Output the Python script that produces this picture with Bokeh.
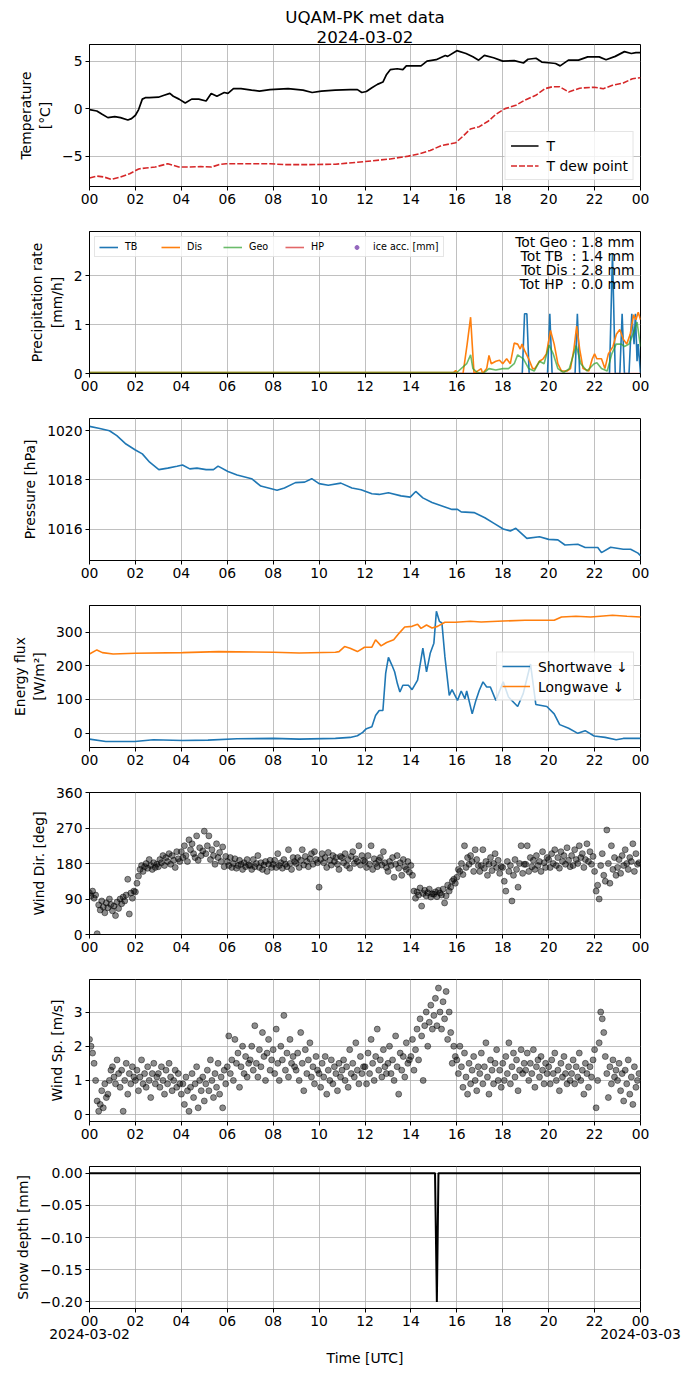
import numpy as np
from bokeh.plotting import figure
from bokeh.layouts import column
from bokeh.models import Range1d, FixedTicker, Label, CustomJSTickFormatter, LinearAxis, Title
from bokeh.embed import file_html
from bokeh.resources import INLINE

FONT = "DejaVu Sans"
FS = "13.9px"
GRID = "#b0b0b0"

TITLE = "UQAM-PK met data"
DATE_START = "2024-03-02"
DATE_END = "2024-03-03"
HOUR_TICKS = list(range(0, 25, 2))
HOUR_LABELS = ["00", "02", "04", "06", "08", "10", "12", "14", "16", "18", "20", "22", "00"]

# ---------------- Temperature ----------------
t_hours = [0, 0.32, 0.55, 0.8, 1.1, 1.35, 1.67, 1.83, 2.0, 2.14,
           2.3, 2.43, 2.6, 3.0, 3.25, 3.5, 3.65, 3.9, 4.17, 4.45,
           4.76, 5.08, 5.3, 5.55, 5.87, 6.03, 6.27, 6.6, 7.06, 7.4,
           7.86, 8.65, 9.3, 9.7, 10.1, 10.7, 11.35, 11.67, 11.86, 12.06,
           12.3, 12.54, 12.78, 12.94, 13.1, 13.4, 13.65, 13.8, 14.13, 14.44,
           14.7, 15.1, 15.5, 15.6, 16.0, 16.4, 16.7, 16.95, 17.2, 17.6,
           18.0, 18.5, 18.9, 19.1, 19.45, 19.7, 20.1, 20.3, 20.5, 20.86,
           21.3, 21.7, 22.2, 22.5, 22.9, 23.3, 23.6, 23.8, 24.0]
t_vals = [-0.1, -0.25, -0.6, -0.95, -0.85, -0.95, -1.2, -1.05, -0.7, -0.1,
          1.0, 1.15, 1.15, 1.2, 1.4, 1.6, 1.3, 1.0, 0.6, 1.0,
          1.0, 0.8, 1.6, 1.3, 1.7, 1.6, 2.1, 2.1, 1.95, 1.85,
          2.0, 2.1, 1.95, 1.7, 1.85, 1.95, 2.0, 2.0, 1.7, 1.8,
          2.2, 2.55, 2.8, 3.6, 4.1, 4.2, 4.1, 4.5, 4.5, 4.5,
          5.0, 5.15, 5.6, 5.5, 6.1, 5.8, 5.45, 5.1, 5.6, 5.35,
          5.0, 5.05, 4.8, 5.2, 5.3, 4.9, 4.8, 4.75, 4.5, 5.1,
          5.1, 5.45, 5.45, 5.15, 5.5, 6.0, 5.8, 5.9, 5.9]
td_hours = [0, 0.32, 0.63, 0.95, 1.35, 1.75, 2.14, 2.46, 2.86, 3.41,
            3.89, 4.37, 4.84, 5.32, 5.63, 5.95, 6.75, 7.86, 8.49, 9.44,
            10.71, 11.67, 12.3, 13.1, 13.89, 14.37, 14.84, 15.32, 15.95, 16.27,
            16.59, 16.98, 17.38, 17.7, 18.1, 18.57, 18.97, 19.44, 19.84, 20.16,
            20.48, 20.87, 21.35, 21.98, 22.38, 22.78, 23.25, 23.65, 24.0]
td_vals = [-7.3, -7.1, -7.2, -7.45, -7.2, -6.85, -6.35, -6.25, -6.15, -5.8,
           -6.15, -6.15, -6.1, -6.15, -5.9, -5.8, -5.8, -5.8, -5.9, -5.9,
           -5.85, -5.65, -5.5, -5.3, -5.0, -4.75, -4.4, -3.9, -3.6, -2.9,
           -2.15, -1.9, -1.3, -0.6, 0.0, 0.35, 0.9, 1.4, 2.1, 2.3,
           2.3, 1.75, 2.15, 2.25, 2.1, 2.45, 2.7, 3.15, 3.25]

# ---------------- Precipitation ----------------
tb_hours = [0, 18.85, 18.95, 19.05, 19.15, 19.95, 20.05, 20.15, 21.15, 21.25,
            21.35, 22.65, 22.78, 22.9, 23.1, 23.2, 23.3, 23.5, 23.62, 23.72,
            23.78, 23.85, 23.9, 24.0]
tb_vals = [0, 0, 1.22, 1.22, 0, 0, 1.22, 0, 0, 1.22,
           0, 0, 2.45, 0, 0, 1.22, 0, 0, 1.22, 0.6,
           1.22, 0.25, 0.6, 0]
dis_hours = [0, 15.85, 15.95, 16.05, 16.27, 16.45, 16.6, 16.67, 16.75, 16.9,
             17.06, 17.12, 17.3, 17.4, 17.5, 17.7, 17.86, 18.0, 18.17, 18.33,
             18.5, 18.65, 18.76, 18.84, 18.97, 19.13, 19.3, 19.4, 19.6, 19.76,
             19.9, 20.08, 20.24, 20.4, 20.56, 20.8, 20.95, 21.1, 21.22, 21.35,
             21.5, 21.75, 21.9, 22.0, 22.1, 22.3, 22.45, 22.6, 22.8, 22.95,
             23.1, 23.25, 23.4, 23.55, 23.7, 23.8, 23.9, 24.0]
dis_vals = [0.02, 0.02, 0.06, 0.0, 0.0, 0.6, 1.15, 0.6, 0.0, 0.05,
            0.1, 0.0, 0.1, 0.37, 0.2, 0.25, 0.27, 0.2, 0.3, 0.2,
            0.62, 0.6, 0.5, 0.6, 0.45, 0.3, 0.1, 0.1, 0.25, 0.3,
            0.4, 0.88, 0.6, 0.2, 0.05, 0.05, 0.1, 0.5, 0.97, 0.5,
            0.1, 0.05, 0.3, 0.4, 0.3, 0.3, 0.1, 0.4, 0.55, 0.8,
            0.9, 0.7, 0.6, 0.8, 1.2, 1.1, 1.25, 1.1]
geo_hours = [0, 16.0, 16.43, 16.6, 16.7, 16.9, 17.14, 17.4, 17.7, 18.0,
             18.25, 18.5, 18.65, 18.9, 19.13, 19.37, 19.6, 19.8, 20.02, 20.2,
             20.4, 20.65, 20.9, 21.2, 21.4, 21.67, 21.98, 22.1, 22.3, 22.55,
             22.75, 22.94, 23.17, 23.3, 23.5, 23.75, 23.85, 24.0]
geo_vals = [0.02, 0.02, 0.2, 0.38, 0.1, 0.02, 0.0, 0.1, 0.07, 0.1,
            0.1, 0.2, 0.38, 0.3, 0.1, 0.05, 0.25, 0.2, 0.58, 0.4,
            0.1, 0.02, 0.1, 0.57, 0.2, 0.05, 0.2, 0.22, 0.1, 0.05,
            0.4, 0.6, 0.6, 0.55, 0.6, 0.9, 1.05, 0.55]
hp_hours = [0, 24.0]
hp_vals = [0.0, 0.0]
ice_hours = [0.0]
ice_vals = [float("nan")]          # no ice accretion recorded
totals_names = ["Geo", "TB\u00a0", "Dis", "HP\u00a0"]
totals_mm = [1.8, 1.4, 2.8, 0.0]

# ---------------- Pressure ----------------
pres_hours = [0, 0.4, 0.87, 1.19, 1.59, 1.98, 2.3, 2.62, 3.02, 3.41,
              3.81, 4.05, 4.37, 4.68, 5.08, 5.4, 5.6, 6.03, 6.43, 7.06,
              7.46, 8.17, 8.49, 8.97, 9.37, 9.68, 10.0, 10.4, 10.95, 11.43,
              11.83, 12.3, 12.62, 13.02, 13.57, 13.97, 14.21, 14.52, 14.92, 15.48,
              15.79, 16.03, 16.19, 16.75, 17.22, 17.62, 18.02, 18.33, 18.57, 19.05,
              19.6, 20.0, 20.4, 20.71, 21.27, 21.59, 22.14, 22.3, 22.7, 23.25,
              23.57, 23.89, 24.0]
pres_vals = [1020.18, 1020.1, 1020.0, 1019.8, 1019.46, 1019.23, 1019.06, 1018.72, 1018.42, 1018.48,
             1018.56, 1018.61, 1018.45, 1018.48, 1018.42, 1018.42, 1018.56, 1018.34, 1018.2, 1018.05,
             1017.75, 1017.58, 1017.67, 1017.89, 1017.91, 1018.05, 1017.85, 1017.78, 1017.87, 1017.67,
             1017.6, 1017.44, 1017.41, 1017.48, 1017.35, 1017.3, 1017.53, 1017.27, 1017.08, 1016.9,
             1016.8, 1016.8, 1016.7, 1016.67, 1016.46, 1016.23, 1016.0, 1015.92, 1016.03, 1015.62,
             1015.69, 1015.58, 1015.56, 1015.35, 1015.38, 1015.25, 1015.25, 1015.04, 1015.26, 1015.18,
             1015.18, 1015.02, 1014.92]

# ---------------- Radiation ----------------
sw_hours = [0, 0.71, 1.98, 2.78, 4.05, 5.16, 6.43, 8.02, 9.13, 10.71,
            11.35, 11.67, 11.9, 12.06, 12.3, 12.46, 12.62, 12.78, 12.9, 13.02,
            13.17, 13.29, 13.41, 13.52, 13.65, 13.89, 14.05, 14.29, 14.52, 14.68,
            14.84, 15.0, 15.11, 15.24, 15.35, 15.48, 15.67, 15.79, 16.03, 16.19,
            16.35, 16.43, 16.67, 16.83, 16.98, 17.14, 17.3, 17.46, 17.7, 18.02,
            18.25, 18.65, 18.89, 19.21, 19.44, 19.92, 20.24, 20.48, 20.87, 21.27,
            21.59, 21.98, 22.46, 22.94, 23.25, 24.0]
sw_vals = [-18, -25, -25, -20, -22, -21, -17, -16, -18, -16,
           -13, -8, 2, 13, 19, 52, 67, 67, 177, 225,
           202, 182, 147, 122, 142, 142, 129, 157, 252, 182,
           237, 267, 362, 332, 327, 227, 112, 129, 97, 125,
           102, 125, 57, 97, 127, 152, 137, 137, 97, 152,
           107, 79, 117, 205, 85, 79, 57, 25, 14, -1,
           7, -9, -13, -20, -16, -16]
lw_hours = [0, 0.32, 0.56, 1.03, 1.98, 4.05, 5.63, 8.02, 9.13, 10.71,
            10.87, 11.11, 11.35, 11.67, 11.98, 12.3, 12.46, 12.7, 12.94, 13.25,
            13.49, 13.73, 14.05, 14.29, 14.44, 14.68, 14.92, 15.16, 15.48, 15.95,
            16.59, 17.06, 18.02, 18.97, 20.24, 20.56, 21.19, 21.83, 22.78, 23.41,
            24.0]
lw_vals = [235, 247, 239, 235, 237, 239, 242, 240, 238, 240,
           242, 257, 252, 242, 255, 255, 277, 259, 269, 277,
           297, 315, 317, 323, 311, 321, 312, 317, 329, 329,
           332, 330, 333, 335, 335, 345, 347, 345, 350, 347,
           345]

# ---------------- Wind (one value every 4 min, 15 per hour) ----------------
wind_step_h = 4 / 60
wind_dir = [
    105, 98, 110, 92, 100, 2, 75, 62, 85, 70, 55, 80, 68, 90, 76,
    60, 72, 48, 82, 66, 90, 78, 95, 85, 100, 140, 52, 105, 92, 110,
    108, 130, 148, 165, 175, 160, 172, 180, 168, 190, 175, 165, 182, 170, 178,
    172, 190, 182, 200, 175, 195, 185, 205, 178, 200, 188, 170, 210, 192, 185,
    210, 195, 225, 200, 185, 240, 215, 230, 205, 195, 250, 188, 220, 200, 212,
    262, 205, 225, 250, 190, 215, 200, 178, 230, 195, 208, 185, 222, 172, 198,
    185, 175, 195, 170, 180, 192, 168, 175, 188, 178, 165, 182, 172, 190, 176,
    175, 165, 190, 172, 180, 200, 170, 182, 165, 176, 185, 160, 178, 188, 170,
    178, 188, 170, 205, 175, 182, 168, 190, 178, 172, 215, 180, 165, 195, 185,
    180, 195, 170, 188, 215, 176, 198, 185, 172, 192, 205, 178, 210, 190, 182,
    120, 190, 205, 182, 195, 170, 208, 188, 176, 200, 185, 195, 178, 165, 198,
    195, 182, 205, 175, 190, 168, 198, 210, 180, 192, 185, 225, 176, 200, 188,
    185, 170, 200, 178, 225, 165, 192, 180, 172, 188, 195, 176, 210, 182, 170,
    160, 185, 175, 195, 145, 178, 200, 168, 182, 150, 190, 172, 165, 185, 158,
    175, 150, 110, 92, 108, 100, 118, 72, 104, 112, 98, 106, 115, 95, 103,
    102, 108, 96, 112, 105, 100, 115, 80, 98, 125, 110, 120, 135, 140, 130,
    145, 165, 160, 180, 152, 225, 170, 195, 178, 200, 185, 160, 215, 190, 175,
    160, 175, 215, 168, 185, 150, 178, 195, 162, 180, 205, 170, 188, 155, 172,
    170, 135, 110, 185, 160, 175, 85, 150, 190, 165, 120, 180, 225, 155, 178,
    178, 225, 160, 195, 172, 188, 165, 200, 175, 185, 160, 210, 182, 170, 195,
    190, 170, 205, 180, 215, 175, 195, 168, 210, 185, 200, 178, 220, 188, 172,
    200, 175, 215, 190, 180, 225, 195, 205, 170, 190, 230, 185, 210, 178, 198,
    160, 110, 125, 90, 175, 205, 150, 135, 265, 180, 130, 225, 165, 195, 150,
    170, 190, 155, 200, 175, 215, 180, 165, 195, 185, 230, 160, 205, 178, 182,
]
wind_speed = [
    2.2, 2.0, 1.8, 1.5, 1.0, 0.4, 0.1, 0.3, 0.7, 0.2, 0.9, 0.5, 0.6, 1.0, 1.3,
    1.4, 1.1, 0.9, 1.6, 1.2, 0.8, 1.3, 0.1, 1.0, 1.5, 0.6, 1.2, 0.9, 1.4, 1.1,
    1.0, 1.3, 0.7, 1.1, 1.6, 0.9, 1.2, 0.8, 1.4, 1.0, 0.5, 1.2, 1.5, 0.9, 1.1,
    1.2, 0.8, 1.4, 1.0, 0.6, 1.3, 0.9, 1.5, 1.1, 0.7, 1.0, 1.3, 0.8, 1.2, 0.9,
    0.6, 0.9, 0.3, 1.1, 0.7, 0.1, 0.8, 1.2, 0.5, 0.9, 1.4, 0.2, 1.0, 0.7, 1.1,
    0.4, 0.9, 1.3, 0.7, 1.6, 1.0, 0.5, 1.2, 0.8, 1.5, 0.6, 1.1, 0.2, 1.3, 0.9,
    1.4, 2.3, 1.2, 1.6, 1.0, 2.2, 1.5, 1.8, 0.8, 1.4, 2.0, 1.2, 1.7, 1.1, 1.5,
    1.6, 2.0, 1.3, 2.6, 1.5, 1.1, 1.9, 1.4, 2.4, 1.7, 1.0, 1.8, 2.2, 1.3, 1.6,
    1.9, 1.2, 2.5, 1.5, 1.0, 2.0, 1.6, 2.9, 1.3, 1.8, 1.1, 2.2, 1.5, 1.7, 1.4,
    1.3, 1.8, 1.0, 2.4, 1.5, 0.7, 1.9, 1.2, 1.6, 2.1, 1.1, 1.4, 0.9, 1.7, 1.3,
    1.2, 0.8, 1.5, 1.1, 1.7, 0.6, 1.3, 1.0, 1.6, 0.9, 1.4, 1.2, 0.7, 1.5, 1.1,
    1.3, 1.6, 1.0, 1.4, 0.8, 1.9, 1.2, 1.5, 1.1, 2.1, 1.3, 0.9, 1.7, 1.2, 1.4,
    1.4, 0.9, 1.8, 1.2, 2.2, 1.5, 1.0, 1.7, 2.5, 1.3, 1.6, 1.1, 1.9, 1.4, 1.2,
    1.5, 2.0, 1.2, 1.6, 1.0, 2.3, 1.4, 0.6, 1.8, 1.3, 1.7, 1.1, 2.1, 1.5, 1.6,
    1.7, 2.2, 1.3, 1.9, 2.5, 1.6, 2.8, 2.3, 1.0, 2.6, 3.0, 2.0, 2.7, 3.2, 2.5,
    2.9, 3.4, 2.6, 3.7, 3.0, 2.5, 3.3, 2.8, 3.6, 2.2, 3.0, 2.4, 1.5, 2.0, 1.7,
    1.6, 1.2, 2.0, 1.4, 0.8, 1.8, 1.1, 0.6, 1.5, 0.9, 1.3, 1.7, 1.0, 0.7, 1.4,
    1.2, 1.8, 0.9, 1.4, 2.1, 1.1, 0.6, 1.6, 1.3, 0.9, 1.5, 1.9, 1.0, 1.3, 0.8,
    1.5, 1.0, 1.7, 1.2, 2.1, 0.9, 1.4, 1.8, 1.1, 1.6, 0.7, 1.3, 1.9, 1.2, 1.5,
    1.3, 1.8, 1.0, 1.5, 1.2, 1.9, 0.8, 1.4, 1.6, 1.1, 1.7, 1.3, 0.9, 1.5, 1.2,
    1.4, 0.9, 1.6, 1.2, 1.8, 1.0, 1.3, 0.7, 1.5, 1.1, 1.7, 1.2, 0.9, 1.4, 1.0,
    1.2, 1.6, 0.9, 1.4, 1.1, 1.8, 1.0, 1.3, 0.6, 1.5, 1.2, 0.8, 1.4, 1.1, 1.6,
    1.9, 0.2, 1.0, 2.1, 3.0, 2.8, 2.4, 1.7, 1.2, 0.5, 1.4, 0.9, 1.6, 1.1, 1.3,
    1.0, 1.5, 0.7, 1.2, 0.4, 1.3, 0.9, 1.6, 0.6, 1.1, 0.3, 1.4, 0.8, 1.0, 1.2,
]
wind_hours = (np.arange(len(wind_dir)) * wind_step_h).tolist()

# ---------------- Snow depth ----------------
snow_hours = [0, 15.05, 15.13, 15.2, 24.0]
snow_vals = [0.0, 0.0, -0.2, 0.0, 0.0]

# ---------------- Axes settings ----------------
X_RANGE = (0, 24)
T_RANGE = (-8.2, 6.75)
T_TICKS = [-5, 0, 5]
P_RANGE = (0, 2.9)
P_TICKS = [0, 1, 2]
PRES_RANGE = (1014.72, 1020.5)
PRES_TICKS = [1016, 1018, 1020]
E_RANGE = (-43, 379)
E_TICKS = [0, 100, 200, 300]
WD_RANGE = (0, 360)
WD_TICKS = [0, 90, 180, 270, 360]
WS_RANGE = (-0.2, 3.95)
WS_TICKS = [0, 1, 2, 3]
SD_RANGE = (-0.2103, 0.0103)
SD_TICKS = [-0.2, -0.15, -0.1, -0.05, 0.0]


def make_fig(yr, top=12, bottom=33):
    p = figure(frame_width=551, frame_height=142,
               x_range=Range1d(*X_RANGE), y_range=Range1d(*yr),
               min_border_left=89, min_border_right=45,
               min_border_top=top, min_border_bottom=bottom,
               output_backend="svg", toolbar_location=None,
               background_fill_color="white", border_fill_color="white")
    return p


def style_axis(ax):
    ax.major_label_text_font = FONT
    ax.major_label_text_font_size = FS
    ax.major_label_text_color = "black"
    ax.axis_label_text_font = FONT
    ax.axis_label_text_font_size = FS
    ax.axis_label_text_font_style = "normal"
    ax.axis_label_text_color = "black"
    ax.axis_line_color = "black"
    ax.major_tick_line_color = "black"
    ax.major_tick_out = 4
    ax.major_tick_in = 0
    ax.minor_tick_line_color = None
    ax.major_label_standoff = 3
    ax.axis_label_standoff = 6


def style(p, ylabel, yticks, decimals=0):
    p.xaxis.ticker = FixedTicker(ticks=HOUR_TICKS)
    p.xaxis.major_label_overrides = {t: l for t, l in zip(HOUR_TICKS, HOUR_LABELS)}
    p.yaxis.ticker = FixedTicker(ticks=yticks)
    p.yaxis.formatter = CustomJSTickFormatter(
        args=dict(d=decimals),
        code="return (tick < -1e-9 ? '\\u2212' : '') + Math.abs(tick).toFixed(d);")
    p.yaxis.axis_label = ylabel
    style_axis(p.xaxis[0])
    style_axis(p.yaxis[0])
    for g in (p.xgrid[0], p.ygrid[0]):
        g.grid_line_color = GRID
        g.grid_line_width = 0.8
    p.outline_line_color = "black"
    p.outline_line_width = 1
    p.outline_line_alpha = 1


def style_title(t, standoff):
    t.align = "center"
    t.text_font = FONT
    t.text_font_size = "16.7px"
    t.text_font_style = "normal"
    t.text_color = "black"
    t.standoff = standoff
    t.offset = 0


def style_legend(leg, fs=FS, glyph_w=28):
    leg.label_text_font = FONT
    leg.label_text_font_size = fs
    leg.label_text_color = "black"
    leg.background_fill_color = "white"
    leg.background_fill_alpha = 0.8
    leg.border_line_color = "#cccccc"
    leg.border_line_width = 1
    leg.glyph_width = glyph_w
    leg.glyph_height = 17
    leg.label_height = 17
    leg.margin = 6
    leg.padding = 5
    leg.spacing = 3
    leg.label_standoff = 8


# 1. Temperature
p1 = make_fig(T_RANGE, top=44)
p1.title.text = TITLE
style_title(p1.title, 1)
date_title = Title(text=DATE_START)
style_title(date_title, 3)
p1.add_layout(date_title, "above")
p1.line(t_hours, t_vals, color="black", line_width=1.7, legend_label="T")
p1.line(td_hours, td_vals, color="#d62728", line_width=1.6, line_dash="6 2",
        legend_label="T dew point")
style(p1, "Temperature\n[°C]", T_TICKS)
p1.legend.location = "bottom_right"
style_legend(p1.legend[0])

# 2. Precipitation
p2 = make_fig(P_RANGE)
p2.line(tb_hours, tb_vals, color="#1f77b4", line_width=1.6, legend_label="TB")
p2.line(dis_hours, dis_vals, color="#ff7f0e", line_width=1.6, legend_label="Dis")
p2.line(geo_hours, geo_vals, color="#2ca02c", line_alpha=0.7, line_width=1.6, legend_label="Geo")
p2.line(hp_hours, hp_vals, color="#d62728", line_alpha=0.7, line_width=1.6, legend_label="HP")
p2.scatter(ice_hours, ice_vals, color="#9467bd", size=5, legend_label="ice acc. [mm]")
style(p2, "Precipitation rate\n[mm/h]", P_TICKS)
lg2 = p2.legend[0]
style_legend(lg2, fs="9.6px", glyph_w=19)
lg2.location = "top_left"
lg2.orientation = "horizontal"
lg2.glyph_height = 10
lg2.label_height = 10
lg2.spacing = 16
lg2.label_standoff = 7
lg2.padding = 4
lg2.margin = 5
for i, (n, v) in enumerate(zip(totals_names, totals_mm)):
    p2.add_layout(Label(x=X_RANGE[1], y=P_RANGE[1], x_offset=-6, y_offset=-2 - 14 * i,
                        text=f"Tot {n} : {v:.1f} mm",
                        text_align="right", text_baseline="top", text_font=FONT,
                        text_font_size=FS, text_color="black"))

# 3. Pressure
p3 = make_fig(PRES_RANGE)
p3.line(pres_hours, pres_vals, color="#1f77b4", line_width=1.6)
style(p3, "Pressure [hPa]", PRES_TICKS)

# 4. Energy flux
p4 = make_fig(E_RANGE)
p4.line(sw_hours, sw_vals, color="#1f77b4", line_width=1.6, legend_label="Shortwave \u2193")
p4.line(lw_hours, lw_vals, color="#ff7f0e", line_width=1.6, legend_label="Longwave \u2193")
style(p4, "Energy flux\n[W/m\u00b2]", E_TICKS)
p4.legend.location = "center_right"
style_legend(p4.legend[0])

# 5. Wind direction
p5 = make_fig(WD_RANGE)
p5.scatter(wind_hours, wind_dir, size=6, color="black", fill_alpha=0.45, line_alpha=0.45)
style(p5, "Wind Dir. [deg]", WD_TICKS)

# 6. Wind speed
p6 = make_fig(WS_RANGE)
p6.scatter(wind_hours, wind_speed, size=6, color="black", fill_alpha=0.45, line_alpha=0.45)
style(p6, "Wind Sp. [m/s]", WS_TICKS)

# 7. Snow depth
p7 = make_fig(SD_RANGE, bottom=56)
p7.line(snow_hours, snow_vals, color="black", line_width=2)
style(p7, "Snow depth [mm]", SD_TICKS, decimals=2)
date_axis = LinearAxis(ticker=FixedTicker(ticks=[X_RANGE[0], X_RANGE[1]]),
                       major_label_overrides={X_RANGE[0]: DATE_START, X_RANGE[1]: DATE_END})
style_axis(date_axis)
date_axis.axis_line_color = None
date_axis.major_tick_line_color = None
date_axis.major_tick_out = 0
date_axis.major_label_standoff = 0
date_axis.axis_label = "Time [UTC]"
date_axis.axis_label_standoff = 8
p7.add_layout(date_axis, "below")

layout = column(p1, p2, p3, p4, p5, p6, p7)
open("out.html", "w").write(file_html(layout, INLINE))
